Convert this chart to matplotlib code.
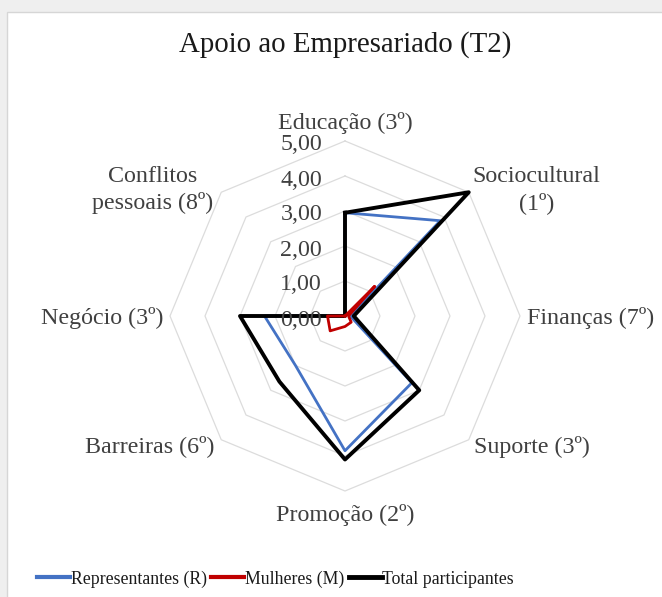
import numpy as np
import matplotlib
matplotlib.use("Agg")
import matplotlib.pyplot as plt
from matplotlib.transforms import offset_copy
from matplotlib.patches import Rectangle
from matplotlib.lines import Line2D

plt.rcParams['font.family'] = ['Liberation Serif', 'DejaVu Serif']

title = "Apoio ao Empresariado (T2)"
categories = ["Educação (3º)", "Sociocultural\n(1º)", "Finanças (7º)", "Suporte (3º)",
              "Promoção (2º)", "Barreiras (6º)", "Negócio (3º)", "Conflitos\npessoais (8º)"]
representantes = [2.95, 3.85, 0.15, 2.70, 3.85, 2.00, 2.30, 0.00]
mulheres = [0.00, 1.20, 0.10, 0.25, 0.30, 0.60, 0.50, 0.00]
total = [2.95, 5.00, 0.25, 3.00, 4.10, 2.65, 3.00, 0.00]
series_names = ["Representantes (R)", "Mulheres (M)", "Total participantes"]
r_ticks = [0, 1, 2, 3, 4, 5]
r_labels = ["0,00", "1,00", "2,00", "3,00", "4,00", "5,00"]

W, H, DPI = 662, 597, 100
fig = plt.figure(figsize=(W / DPI, H / DPI), dpi=DPI, facecolor='#efefef')
fig.patches.append(Rectangle((7 / W, -0.01), 1.0, 1 - 12 / H + 0.01, transform=fig.transFigure,
                             facecolor='white', edgecolor='#d6d6d6', linewidth=1.0, zorder=-5))

cx, cy, R = 345, 316, 175
ax = fig.add_axes([(cx - R) / W, (H - cy - R) / H, 2 * R / W, 2 * R / H], projection='polar')
ax.set_zorder(2)
ax.set_facecolor('none')
ax.set_theta_offset(np.pi / 2)
ax.set_theta_direction(-1)
ax.set_ylim(0, 5)
ax.grid(False)
ax.spines['polar'].set_visible(False)
ax.set_xticks([])
ax.set_yticks([])

n = len(categories)
angles = np.arange(n) * 2 * np.pi / n
closed = np.append(angles, angles[0])

for r in r_ticks[1:]:
    ax.plot(closed, [r] * (n + 1), color='#dcdcdc', lw=0.9, zorder=1, clip_on=False)

def close(v):
    return list(v) + [v[0]]

ax.plot(closed, close(representantes), color='#4472C4', lw=2.0, zorder=3, clip_on=False)
ax.plot(closed, close(total), color='black', lw=2.8, zorder=4, clip_on=False)
ax.plot(closed, close(mulheres), color='#C00000', lw=2.0, zorder=5, clip_on=False)

# radial tick labels
tr = offset_copy(ax.transData, fig=fig, x=-23, y=-4, units='dots')
for r, lab in zip(r_ticks, r_labels):
    ax.text(0, r, lab, transform=tr, ha='right', va='center', fontsize=17.3,
            color='#404040', zorder=6)

# category labels
offs = [(0, 18, 'center'), (4, 2, 'left'), (7, -2, 'left'), (5, -7, 'left'),
        (0, -24, 'center'), (-7, -6, 'right'), (-7, -2, 'right'), (-8, 2, 'right')]
for a, lab, (dx, dy, ha) in zip(angles, categories, offs):
    t = offset_copy(ax.transData, fig=fig, x=dx, y=dy, units='dots')
    ax.text(a, 5, lab, transform=t, ha=ha, va='center', multialignment='center',
            fontsize=17.3, color='#404040', linespacing=1.3)

fig.text(cx / W, 1 - 45 / H, title, ha='center', va='center', fontsize=20.8, color='#1a1a1a')

handles = [Line2D([], [], color='#4472C4', lw=3.0),
           Line2D([], [], color='#C00000', lw=3.0),
           Line2D([], [], color='black', lw=3.5)]
fig.legend(handles, series_names,
           loc='center left', bbox_to_anchor=(37 / W, 1 - 579 / H), ncol=3, frameon=False,
           fontsize=12.8, handlelength=1.85, handletextpad=0.05, columnspacing=0.25,
           borderpad=0, borderaxespad=0, labelcolor='#1a1a1a')

fig.savefig('out.png', dpi=DPI, facecolor=fig.get_facecolor())
